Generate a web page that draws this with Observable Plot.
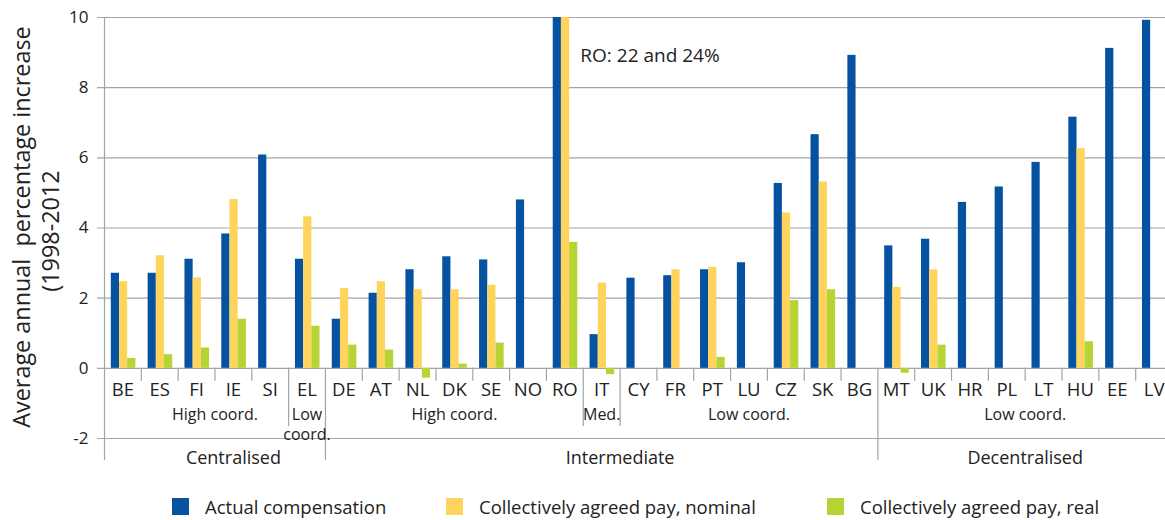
<!DOCTYPE html>
<html><head><meta charset="utf-8">
<script src="https://cdn.jsdelivr.net/npm/d3@7"></script>
<script src="https://cdn.jsdelivr.net/npm/@observablehq/plot@0.6"></script>
<style>
body{margin:0;background:#fff;font-family:"Open Sans",sans-serif;color:#222;}
#chart{position:relative;width:1165px;height:520px;overflow:hidden}
svg text{white-space:pre}
.legend{position:absolute;top:480px;left:0;width:1165px;height:40px}
.item{position:absolute;top:18px;height:17px;display:flex;align-items:center;font-size:18.5px;white-space:nowrap}
.sw{width:17px;height:17px;margin-right:16px;flex:none}
</style></head><body><div id="chart"></div>
<script>
const countries = ["BE","ES","FI","IE","SI","EL","DE","AT","NL","DK","SE","NO","RO","IT","CY","FR","PT","LU","CZ","SK","BG","MT","UK","HR","PL","LT","HU","EE","LV"];
const actual  = [2.71,2.71,3.11,3.83,6.08,3.11,1.40,2.14,2.81,3.18,3.09,4.80,22,0.96,2.57,2.64,2.81,3.01,5.27,6.66,8.92,3.49,3.68,4.73,5.17,5.87,7.16,9.12,9.92];
const nominal = [2.47,3.21,2.58,4.81,null,4.32,2.27,2.47,2.24,2.24,2.37,null,24,2.43,null,2.81,2.88,null,4.43,5.31,null,2.31,2.81,null,null,null,6.26,null,null];
const real    = [0.28,0.39,0.58,1.40,null,1.20,0.66,0.52,-0.28,0.12,0.72,null,3.59,-0.18,null,null,0.31,null,1.93,2.24,null,-0.14,0.66,null,null,null,0.76,null,null];
const seriesNames = ["Actual compensation","Collectively agreed pay, nominal","Collectively agreed pay, real"];
const seriesColors = ["#0552a1","#ffd45c","#b6d433"];
const yTicks = [-2,0,2,4,6,8,10];
const topGroups = [
  {name:"Centralised", first:"BE", last:"EL"},
  {name:"Intermediate", first:"DE", last:"BG"},
  {name:"Decentralised", first:"MT", last:"LV"}
];
const subGroups = [
  {name:"High coord.", first:"BE", last:"SI"},
  {name:"Low\ncoord.", first:"EL", last:"EL"},
  {name:"High coord.", first:"DE", last:"RO"},
  {name:"Med.", first:"IT", last:"IT"},
  {name:"Low coord.", first:"CY", last:"BG"},
  {name:"Low coord.", first:"MT", last:"LV"}
];
const note = "RO: 22 and 24%";
const yTitle = ["Average annual  percentage increase","(1998-2012"];

// ---- derived tables ----
const rows = countries.map((c,i)=>({country:c, actual:actual[i], nominal:nominal[i], real:real[i]}));
const keys = ["actual","nominal","real"];
const xRange = [104, 1172];
const bw = (xRange[1]-xRange[0])/countries.length;
const idx = c => countries.indexOf(c);

const topStarts = new Set(topGroups.map(g=>g.first));
const subStarts = new Set(subGroups.map(g=>g.first));
const boundaries = [];
countries.forEach((c,i)=>{
  if (i===0) { boundaries.push({country:c, top:10, bottom:-2.63}); return; }
  if (topStarts.has(c)) boundaries.push({country:c, top:0, bottom:-2.63});
  else if (subStarts.has(c)) boundaries.push({country:c, top:0, bottom:-1.66});
  else boundaries.push({country:c, top:0, bottom:-0.37});
});

const grid = "#a4a4a4";
const barEdges = [6.8, 15.0, 23.2, 31.4];
const topShift = [0.5, 0.5, 0];
const subShift = [0.5, 0, 0, 0, 0, 0];

const marks = [
  Plot.ruleY(yTicks, {stroke: grid, strokeWidth: 1.2, insetLeft: -7}),
  ...keys.map((k,j)=>Plot.barY(rows.filter(d=>d[k]!=null), {
    x:"country", y1:0, y2:k, fill:seriesColors[j],
    insetLeft: barEdges[j], insetRight: bw - barEdges[j+1], clip:true
  })),
  Plot.ruleX(boundaries, {x:"country", y1:"top", y2:"bottom", dx:-bw/2, stroke:grid, strokeWidth:1.2}),
  Plot.axisY({ticks:yTicks, tickSize:0, tickPadding:16, tickFormat:d=>String(d), fontSize:17, label:null, color:"#222"}),
  Plot.text(countries, {x:d=>d, y:0, dy:22, fontSize:18.5, fill:"#222"}),
  ...subGroups.map((g,i)=>Plot.text([g], {
    x:"first", y:0, text:"name", dy:38.5, lineAnchor:"top", lineHeight:1.2, fontSize:16, fill:"#222",
    dx:((idx(g.last)-idx(g.first))/2 + subShift[i])*bw
  })),
  ...topGroups.map((g,i)=>Plot.text([g], {
    x:"first", y:-2, text:"name", dy:20, fontSize:18, fill:"#222",
    dx:((idx(g.last)-idx(g.first))/2 + topShift[i])*bw
  })),
  Plot.text([note], {x:()=>"RO", y:8.9, textAnchor:"start", dx:15.5, fontSize:19, fill:"#222"}),
  Plot.text([yTitle[0]], {frameAnchor:"left", textAnchor:"middle", rotate:-90, dx:-82, dy:-1, fontSize:23.4, fill:"#222"}),
  Plot.text([yTitle[1]], {frameAnchor:"left", textAnchor:"middle", rotate:-90, dx:-53, dy:3, fontSize:23.4, fill:"#222"})
];

const chart = Plot.plot({
  width:1165, height:480,
  marginLeft:104, marginRight:0, marginTop:17, marginBottom:42,
  style:{fontFamily:'"Open Sans", sans-serif', fontSize:"17px", background:"white", color:"#222", overflow:"visible"},
  x:{domain:countries, range:xRange, padding:0, round:false, axis:null},
  y:{domain:[-2,10]},
  marks
});
const root = document.getElementById("chart");
root.appendChild(chart);

const legend = document.createElement("div");
legend.className = "legend";
const legendLeft = [172, 446, 827];
seriesNames.forEach((name,i)=>{
  const it = document.createElement("div");
  it.className = "item";
  it.style.left = legendLeft[i] + "px";
  const sw = document.createElement("span");
  sw.className = "sw"; sw.style.background = seriesColors[i];
  const tx = document.createElement("span");
  tx.textContent = name;
  it.appendChild(sw); it.appendChild(tx);
  legend.appendChild(it);
});
root.appendChild(legend);
</script></body></html>
